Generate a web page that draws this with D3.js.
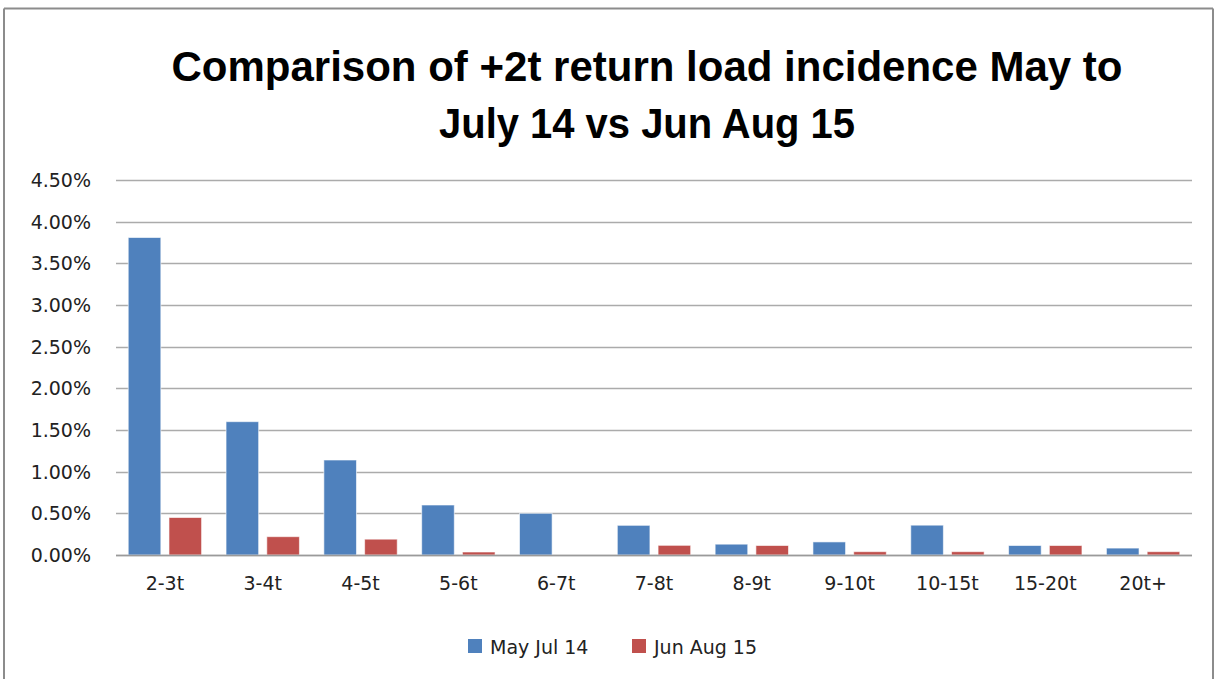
<!DOCTYPE html>
<html>
<head>
<meta charset="utf-8">
<script src="https://cdn.jsdelivr.net/npm/d3@7"></script>
<style>
  body { margin: 0; background: #fff; overflow: hidden; }
  svg { display: block; font-family: "DejaVu Sans", "Liberation Sans", Arial, sans-serif; }
</style>
</head>
<body>
<svg id="chart" width="1217" height="679" viewBox="0 0 1217 679"></svg>
<script>
const categories = ["2-3t", "3-4t", "4-5t", "5-6t", "6-7t", "7-8t", "8-9t", "9-10t", "10-15t", "15-20t", "20t+"];
const mayJul14 = [3.81, 1.60, 1.14, 0.60, 0.50, 0.356, 0.13, 0.157, 0.358, 0.114, 0.083];
const junAug15 = [0.45, 0.22, 0.19, 0.036, 0, 0.116, 0.114, 0.04, 0.04, 0.114, 0.04];
const seriesNames = ["May Jul 14", "Jun Aug 15"];
const colors = ["#4F81BD", "#C0504D"];
const yTicks = [0, 0.5, 1, 1.5, 2, 2.5, 3, 3.5, 4, 4.5];

const svg = d3.select("#chart");

// chart frame: left, top and right edges (bottom edge is off the picture)
const frame = [
  [4, 8.5, 4, 679],
  [4, 8.5, 1213, 8.5],
  [1213, 8.5, 1213, 679],
];
svg.append("g")
  .selectAll("line")
  .data(frame)
  .join("line")
  .attr("x1", (d) => d[0]).attr("y1", (d) => d[1])
  .attr("x2", (d) => d[2]).attr("y2", (d) => d[3])
  .attr("stroke", "#8c8c8c")
  .attr("stroke-width", 2);

// title
const titleLines = ["Comparison of +2t return load incidence May to", "July 14 vs Jun Aug 15"];
const titleWidths = [951, 416];
svg.append("g")
  .selectAll("text")
  .data(titleLines)
  .join("text")
  .attr("x", 647)
  .attr("y", (d, i) => 81 + i * 57)
  .attr("text-anchor", "middle")
  .attr("font-family", "Liberation Sans Narrow, Liberation Sans, Arial, sans-serif")
  .attr("font-weight", "bold")
  .attr("font-size", 42)
  .attr("textLength", (d, i) => titleWidths[i])
  .attr("lengthAdjust", "spacingAndGlyphs")
  .attr("fill", "#000")
  .text((d) => d);

const margin = { top: 180, left: 116, right: 25, bottom: 124 };
const innerWidth = 1217 - margin.left - margin.right,
  innerHeight = 679 - margin.top - margin.bottom;

const g = svg.append("g").attr("transform", `translate(${margin.left},${margin.top})`);

const yScale = d3.scaleLinear().domain([0, 4.5]).range([innerHeight, 0]);

const x0 = d3.scaleBand()
  .domain(categories)
  .range([0, innerWidth])
  .paddingInner(0.25)
  .paddingOuter(0.125);

const x1 = d3.scaleBand()
  .domain(seriesNames)
  .range([0, x0.bandwidth()])
  .paddingInner(0.2);

// gridlines
g.append("g")
  .selectAll("line")
  .data(yTicks)
  .join("line")
  .attr("x1", 0)
  .attr("x2", innerWidth)
  .attr("y1", (d) => Math.round(yScale(d)) + 0.5)
  .attr("y2", (d) => Math.round(yScale(d)) + 0.5)
  .attr("stroke", "#ababab")
  .attr("stroke-width", 1.5);

// y axis labels
g.append("g")
  .selectAll("text")
  .data(yTicks)
  .join("text")
  .attr("x", -25)
  .attr("y", (d) => yScale(d) + 7)
  .attr("text-anchor", "end")
  .attr("font-size", 19)
  .attr("fill", "#222")
  .text((d) => d.toFixed(2) + "%");

// bars
const data = categories.map((c, i) => ({ cat: c, values: [mayJul14[i], junAug15[i]] }));

g.append("g")
  .selectAll("g")
  .data(data)
  .join("g")
  .attr("transform", (d) => `translate(${x0(d.cat)},0)`)
  .selectAll("rect")
  .data((d) => d.values.map((v, j) => ({ name: seriesNames[j], value: v, color: colors[j] })))
  .join("rect")
  .attr("x", (d) => x1(d.name))
  .attr("width", x1.bandwidth())
  .attr("y", (d) => yScale(d.value))
  .attr("height", (d) => innerHeight - yScale(d.value))
  .attr("fill", (d) => d.color)
  .attr("stroke", (d) => (d.value > 0 ? "rgba(255,255,255,0.6)" : "none"))
  .attr("stroke-width", 1);

// baseline
g.append("line")
  .attr("x1", 0).attr("x2", innerWidth)
  .attr("y1", innerHeight + 0.5).attr("y2", innerHeight + 0.5)
  .attr("stroke", "#9a9a9a")
  .attr("stroke-width", 1.5);

// x axis labels
g.append("g")
  .selectAll("text")
  .data(categories)
  .join("text")
  .attr("x", (d) => x0(d) + x0.bandwidth() / 2)
  .attr("y", innerHeight + 35)
  .attr("text-anchor", "middle")
  .attr("font-size", 19)
  .attr("fill", "#222")
  .text((d) => d);

// legend
const legendX = [468, 632];
const legend = svg.append("g")
  .selectAll("g")
  .data(seriesNames)
  .join("g")
  .attr("transform", (d, i) => `translate(${legendX[i]},639)`);
legend.append("rect")
  .attr("width", 14).attr("height", 14)
  .attr("fill", (d, i) => colors[i]);
legend.append("text")
  .attr("x", 22)
  .attr("y", 15)
  .attr("font-size", 19)
  .attr("fill", "#222")
  .text((d) => d);
</script>
</body>
</html>
